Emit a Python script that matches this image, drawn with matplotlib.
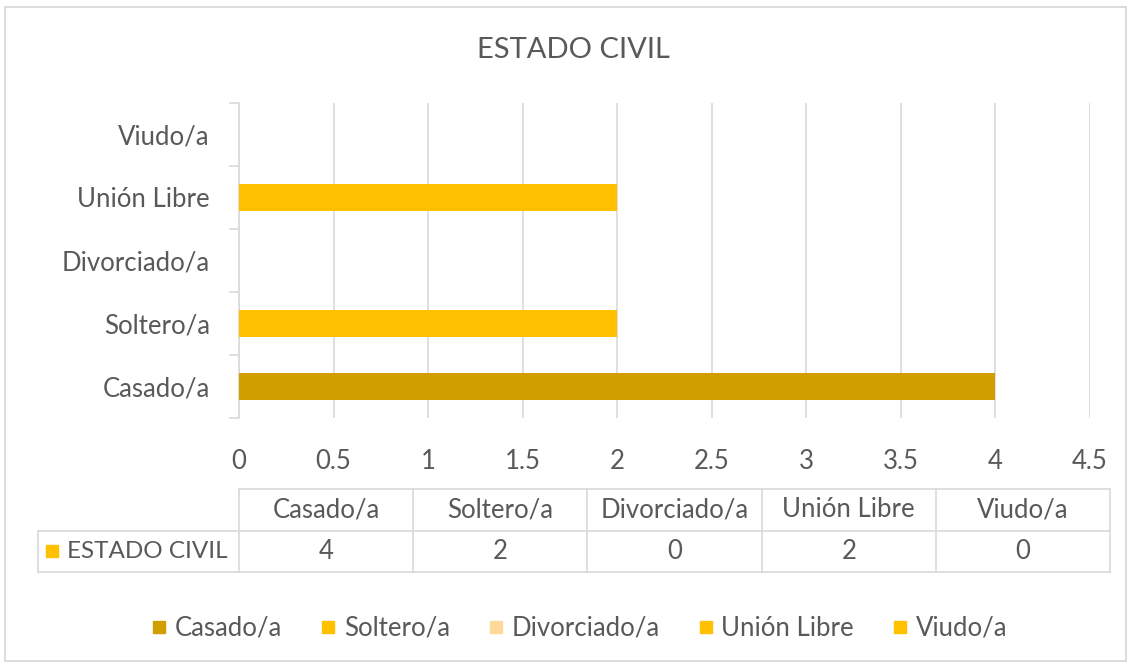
import numpy as np
import matplotlib
matplotlib.use("Agg")
import matplotlib.pyplot as plt
from matplotlib.patches import Rectangle
from matplotlib.lines import Line2D

plt.rcParams['font.family'] = ['Lato', 'DejaVu Sans']

title = "ESTADO CIVIL"
categories = ["Casado/a", "Soltero/a", "Divorciado/a", "Unión Libre", "Viudo/a"]
values = [4, 2, 0, 2, 0]
colors = ["#D19E00", "#FFC000", "#FFD99A", "#FFC000", "#FFC000"]
xticks = [0, 0.5, 1, 1.5, 2, 2.5, 3, 3.5, 4, 4.5]
xtick_labels = ["0", "0.5", "1", "1.5", "2", "2.5", "3", "3.5", "4", "4.5"]

W, H = 1129, 666
txt = "#595959"
grid = "#d9d9d9"
fs = 18.5

def box(l, t, r, b):
    return [l / W, 1 - b / H, (r - l) / W, (b - t) / H]

fig = plt.figure(figsize=(W / 100, H / 100), dpi=100)
fig.patches.append(Rectangle((5 / W, 1 - 661 / H), 1121 / W, 654 / H,
                             transform=fig.transFigure, fill=False,
                             edgecolor=grid, linewidth=1.3))

# main bar chart
ax = fig.add_axes(box(239, 103, 1089.5, 418))
y = np.arange(len(categories))
ax.barh(y, values, height=0.44, color=colors, zorder=3)
ax.set_xlim(0, 4.5)
ax.set_ylim(-0.5, len(categories) - 0.5)
ax.set_xticks(xticks)
ax.set_xticklabels(xtick_labels)
ax.set_yticks(y)
ax.set_yticklabels(categories)
ax.set_yticks(np.arange(-0.5, len(categories)), minor=True)
ax.tick_params(axis="y", which="major", length=0, pad=21, labelsize=fs, labelcolor=txt)
ax.tick_params(axis="y", which="minor", length=7, width=1.2, color=grid)
ax.tick_params(axis="x", length=0, pad=22, labelsize=fs, labelcolor=txt)
ax.grid(axis="x", color=grid, linewidth=1.2, zorder=0)
for s in ["top", "right", "bottom"]:
    ax.spines[s].set_visible(False)
ax.spines["left"].set_color(grid)
ax.spines["left"].set_linewidth(1.2)
fig.text(573 / W, 1 - 50 / H, title, ha="center", va="center",
         fontsize=21, color=txt)

# data table below the chart
tab = fig.add_axes(box(239, 489, 1110, 572))
tab.set_xlim(0, len(categories))
tab.set_ylim(2, 0)
tab.axis("off")
lab_w = 201 / 174
lw = 1.2
tab.add_line(Line2D([0, len(categories)], [0, 0], color=grid, lw=lw, clip_on=False))
tab.add_line(Line2D([-lab_w, len(categories)], [1, 1], color=grid, lw=lw, clip_on=False))
tab.add_line(Line2D([-lab_w, len(categories)], [2, 2], color=grid, lw=lw, clip_on=False))
tab.add_line(Line2D([-lab_w, -lab_w], [1, 2], color=grid, lw=lw, clip_on=False))
for i in range(len(categories) + 1):
    tab.add_line(Line2D([i, i], [0, 2], color=grid, lw=lw, clip_on=False))
for i, (c, v) in enumerate(zip(categories, values)):
    tab.text(i + 0.5, 0.5, c, ha="center", va="center", fontsize=fs, color=txt)
    tab.text(i + 0.5, 1.5, str(v), ha="center", va="center", fontsize=fs, color=txt)
tab.plot([-lab_w + 0.08], [1.5], marker="s", markersize=8, color="#FFC000",
         linestyle="none", clip_on=False)
tab.text(-lab_w + 0.17, 1.5, title, ha="left", va="center", fontsize=17.5, color=txt)

# legend
handles = [Line2D([], [], marker="s", markersize=8, color=c, linestyle="none")
           for c in colors]
fig.legend(handles, categories, loc="center", bbox_to_anchor=(580 / W, 1 - 628 / H),
           ncol=len(categories), frameon=False, fontsize=fs, labelcolor=txt,
           handlelength=0.5, handletextpad=0.35, columnspacing=1.55)

fig.savefig("out.png", dpi=100)
